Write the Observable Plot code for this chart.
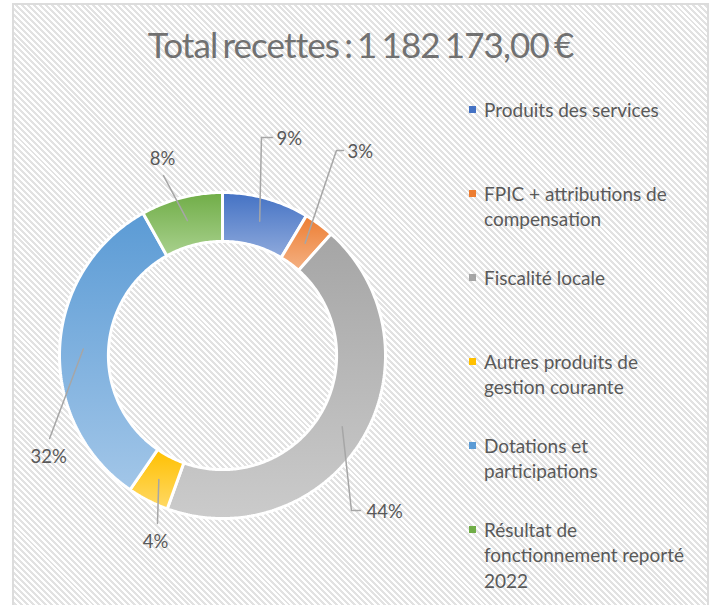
<!DOCTYPE html>
<html><head><meta charset="utf-8">
<script src="https://cdn.jsdelivr.net/npm/d3@7"></script>
<script src="https://cdn.jsdelivr.net/npm/@observablehq/plot@0.6"></script>
<style>
html,body{margin:0;padding:0;background:#fff;}
#wrap{position:relative;width:715px;height:605px;overflow:hidden;font-family:Lato,"Open Sans",sans-serif;}
#frame{position:absolute;left:12px;top:3px;width:693px;height:620px;border:2px solid #dcdcdc;
  background:repeating-linear-gradient(45deg,#ffffff 0px,#ffffff 2.1px,#e2e2e2 2.1px,#e2e2e2 4.2px);}
#title{position:absolute;left:14px;width:693px;top:26px;text-align:center;font-size:35px;line-height:36px;letter-spacing:-0.9px;word-spacing:-3px;color:#717171;white-space:nowrap;}
#chart{position:absolute;left:0;top:0;}
#legend{position:absolute;left:469px;top:0;width:240px;height:605px;}
.item{position:absolute;left:0;display:flex;align-items:flex-start;}
.sw{width:7px;height:7px;margin-top:9.5px;margin-right:8px;flex:none;}
.txt{width:218px;font-size:19px;line-height:25.5px;color:#595959;}
</style>
</head><body>
<div id="wrap">
  <div id="frame"></div>
  <div id="title"></div>
  <div id="chart"></div>
  <div id="legend"></div>
</div>
<script>
// ---- data ----
const titleText = "Total recettes : 1 182 173,00 €";
const categories = [
  "Produits des services",
  "FPIC + attributions de compensation",
  "Fiscalité locale",
  "Autres produits de gestion courante",
  "Dotations et participations",
  "Résultat de fonctionnement reporté 2022"
];
const shares = [8.6, 3.0, 43.9, 4.1, 32.3, 8.1]; // percent of total
const baseColors  = ["#4472C4", "#ED7D31", "#A5A5A5", "#FFC000", "#5B9BD5", "#70AD47"];
const lightColors = ["#8FAADC", "#F4B183", "#CBCBCB", "#FFD966", "#A2C6E8", "#A9D18E"];

// ---- label layout (chart units: outer radius = 1) ----
const labelElbowX = [0.239, 0.699, 0.791, -0.399, -1.061, -0.362];
const labelElbowY = [1.337, 1.258, -0.951, -1.031, -0.509, 1.104];
const labelTail   = [0.068, 0.043, 0.055, 0, 0, 0];
const labelX      = [0.331, 0.767, 0.883, -0.411, -1.067, -0.368];
const labelY      = [1.325, 1.245, -0.963, -1.147, -0.626, 1.202];
const labelSide   = ["start", "start", "start", "middle", "middle", "middle"];

// ---- geometry ----
const R0 = 0.70, R1 = 1.0, RA = 0.855;
const total = d3.sum(shares);
let acc = 0;
const slices = shares.map((v, i) => {
  const a0 = acc / total * 2 * Math.PI; acc += v;
  const a1 = acc / total * 2 * Math.PI;
  return {i, v, a0, a1, mid: (a0 + a1) / 2};
});
const ringPts = slices.flatMap(s => {
  const n = Math.max(2, Math.ceil((s.a1 - s.a0) / (Math.PI / 240)));
  const pts = [];
  for (let k = 0; k <= n; k++) { const a = s.a0 + (s.a1 - s.a0) * k / n; pts.push({slice: s.i, x: R1 * Math.sin(a), y: R1 * Math.cos(a)}); }
  for (let k = n; k >= 0; k--) { const a = s.a0 + (s.a1 - s.a0) * k / n; pts.push({slice: s.i, x: R0 * Math.sin(a), y: R0 * Math.cos(a)}); }
  return pts;
});
const leaderPts = slices.flatMap(s => {
  const pts = [
    {slice: s.i, x: RA * Math.sin(s.mid), y: RA * Math.cos(s.mid)},
    {slice: s.i, x: labelElbowX[s.i], y: labelElbowY[s.i]}
  ];
  if (labelTail[s.i] > 0) pts.push({slice: s.i, x: labelElbowX[s.i] + labelTail[s.i], y: labelElbowY[s.i]});
  return pts;
});
const labels = slices.map(s => ({
  x: labelX[s.i], y: labelY[s.i], side: labelSide[s.i],
  text: Math.round(s.v / total * 100) + "%"
}));

const svg = Plot.plot({
  width: 715, height: 605,
  margin: 0,
  style: {background: "transparent", fontFamily: "Lato, 'Open Sans', sans-serif"},
  x: {domain: [-1, 1], range: [59, 385], axis: null},
  y: {domain: [-1, 1], range: [518, 192], axis: null},
  color: {type: "identity"},
  marks: [
    Plot.line(ringPts, {x: "x", y: "y", z: "slice", fill: d => `url(#grad${d.slice})`,
      stroke: "white", strokeWidth: 3, strokeLinejoin: "miter", curve: "linear-closed"}),
    Plot.line(leaderPts, {x: "x", y: "y", z: "slice", stroke: "#a6a6a6", strokeWidth: 1.5}),
    Plot.text(labels.filter(d => d.side === "start"), {x: "x", y: "y", text: "text", textAnchor: "start",
      fontSize: 18.5, fill: "#595959"}),
    Plot.text(labels.filter(d => d.side === "middle"), {x: "x", y: "y", text: "text", textAnchor: "middle",
      fontSize: 18.5, fill: "#595959"})
  ]
});
const ns = "http://www.w3.org/2000/svg";
const defs = document.createElementNS(ns, "defs");
baseColors.forEach((c, i) => {
  const g = document.createElementNS(ns, "linearGradient");
  g.setAttribute("id", "grad" + i);
  g.setAttribute("x1", "0"); g.setAttribute("y1", "0"); g.setAttribute("x2", "0"); g.setAttribute("y2", "1");
  [[0, c], [1, lightColors[i]]].forEach(([o, col]) => {
    const st = document.createElementNS(ns, "stop");
    st.setAttribute("offset", o); st.setAttribute("stop-color", col);
    g.appendChild(st);
  });
  defs.appendChild(g);
});
svg.insertBefore(defs, svg.firstChild);
document.getElementById("chart").appendChild(svg);
document.getElementById("title").textContent = titleText;

const legend = document.getElementById("legend");
categories.forEach((name, i) => {
  const item = document.createElement("div");
  item.className = "item";
  item.style.top = (96.5 + i * 84) + "px";
  const sw = document.createElement("div");
  sw.className = "sw"; sw.style.background = baseColors[i];
  const t = document.createElement("div");
  t.className = "txt"; t.textContent = name;
  item.appendChild(sw); item.appendChild(t);
  legend.appendChild(item);
});
</script>
</body></html>
